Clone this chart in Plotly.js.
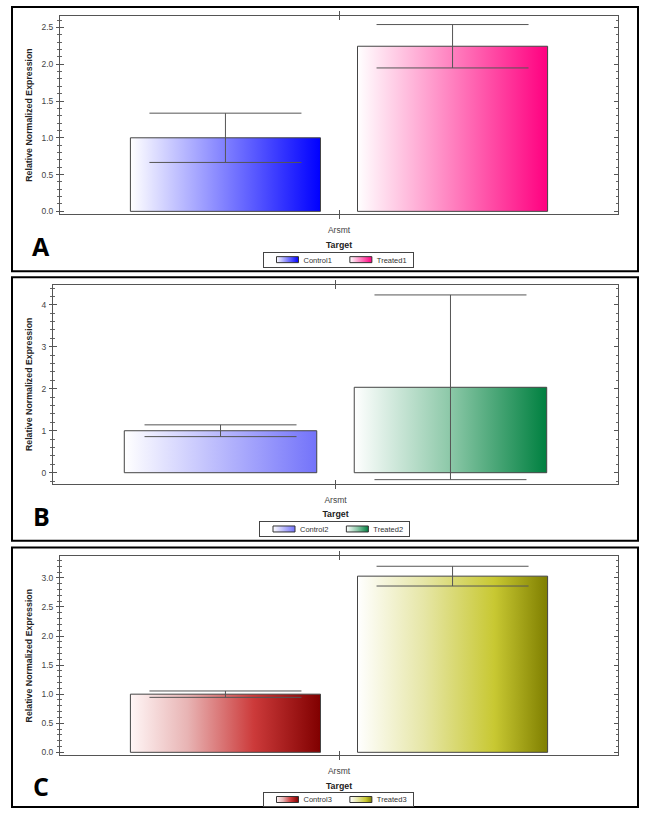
<!DOCTYPE html>
<html>
<head>
<meta charset="utf-8">
<script src="https://cdn.plot.ly/plotly-3.0.1.min.js"></script>
<style>
  html, body { margin: 0; padding: 0; background: #ffffff; width: 646px; height: 823px; overflow: hidden; }
  #chart { width: 646px; height: 823px; overflow: hidden; }
</style>
</head>
<body>
<div id="chart"></div>
<script>
// ---------- data ----------
const target = ['Arsmt'];
const panelLabels = ['A', 'B', 'C'];
const controlNames = ['Control1', 'Control2', 'Control3'];
const treatedNames = ['Treated1', 'Treated2', 'Treated3'];
const controlValues = [1.0, 1.0, 1.0];
const controlErrors = [0.335, 0.14, 0.055];
const treatedValues = [2.245, 2.035, 3.03];
const treatedErrors = [0.295, 2.2, 0.17];
const yTickStep = [0.5, 1, 0.5];
const yMinorStep = [0.1, 0.2, 0.1];
const yRanges = [[-0.04, 2.66], [-0.26, 4.47], [-0.045, 3.37]];
const yTitle = 'Relative Normalized Expression';
const xTitle = 'Target';

// ---------- styles ----------
const W = 646, H = 823;
const px = v => v / W;             // horizontal pixel -> paper
const py = v => 1 - v / H;         // vertical pixel -> paper
const plotBoxes = [                // [left, right, top, bottom] in px
  [60, 618, 16, 218],
  [53, 618, 290, 492],
  [60, 618, 566, 768]
];
const frames = [[12, 638, 7, 276], [12, 638, 282, 550], [12, 638, 557, 821]];
const labelPos = [[41, 250], [41, 525], [41, 800]];
const legendTop = [256, 530, 806];
const legendHeight = [15, 15, 14];
const gradients = [
  [[0, '#ffffff'], [1, '#0000ff']],
  [[0, '#ffffff'], [0.5, '#ff80bf'], [1, '#ff0080']],
  [[0, '#ffffff'], [1, '#7373fa']],
  [[0, '#ffffff'], [0.5, '#8cc8a8'], [1, '#008040']],
  [[0, '#fff6f6'], [0.3, '#e8b4b4'], [0.65, '#cc3a3a'], [1, '#800000']],
  [[0, '#ffffff'], [0.35, '#e6e6a6'], [0.72, '#c8c832'], [1, '#7f7f00']]
];
const gradEnd = gradients.map(g => g[g.length - 1][1]);

const axisFont = { family: 'Liberation Sans, Arial, sans-serif', size: 8.5, color: '#444' };
const titleFont = { family: 'Liberation Sans, Arial, sans-serif', size: 8.8, color: '#222', weight: 'bold' };

const traces = [];
const layout = {
  width: W, height: H,
  margin: { l: 0, r: 0, t: 0, b: 0 },
  paper_bgcolor: '#ffffff',
  plot_bgcolor: '#ffffff',
  font: { family: 'Liberation Sans, Arial, sans-serif', size: 8, color: '#333' },
  barmode: 'group',
  bargap: 0.186,
  bargroupgap: 0.163,
  showlegend: true,
  shapes: [],
  annotations: []
};

for (let i = 0; i < 3; i++) {
  const s = i === 0 ? '' : String(i + 1);
  const xa = 'x' + s, ya = 'y' + s;
  const lg = 'legend' + s;
  const box = plotBoxes[i];
  const mk = (name, val, err, k) => ({
    type: 'bar',
    x: target,
    y: [val],
    name: name,
    xaxis: xa, yaxis: ya,
    legend: lg,
    marker: { color: gradEnd[k], line: { color: '#444', width: 1 } },
    error_y: { type: 'data', array: [err], visible: true, color: '#555', thickness: 1, width: 76 },
    hoverinfo: 'skip'
  });
  traces.push(mk(controlNames[i], controlValues[i], controlErrors[i], 2 * i));
  traces.push(mk(treatedNames[i], treatedValues[i], treatedErrors[i], 2 * i + 1));

  layout['xaxis' + s] = {
    domain: [px(box[0]), px(box[1])],
    anchor: ya,
    type: 'category',
    range: [-0.5, 0.5],
    showline: true, linecolor: '#555', linewidth: 1,
    mirror: 'allticks',
    ticks: 'inside', ticklen: 4, tickcolor: '#555',
    ticklabelstandoff: 8,
    tickfont: axisFont,
    showgrid: false, zeroline: false,
    title: { text: xTitle, font: titleFont, standoff: 7 },
    fixedrange: true
  };
  layout['yaxis' + s] = {
    domain: [py(box[3]), py(box[2])],
    anchor: xa,
    range: yRanges[i],
    dtick: yTickStep[i], tick0: 0,
    showline: true, linecolor: '#555', linewidth: 1,
    mirror: 'allticks',
    ticks: 'inside', ticklen: 4, tickcolor: '#555',
    minor: { dtick: yMinorStep[i], ticks: 'inside', ticklen: 2, tickcolor: '#666' },
    ticklabelstandoff: 4,
    tickformat: i === 1 ? 'd' : '.1f',
    tickfont: axisFont,
    showgrid: false, zeroline: false,
    title: { text: yTitle, font: titleFont, standoff: 7 },
    fixedrange: true
  };
  // outward half of crossing ticks on the left axis
  layout['yaxis' + (i + 4)] = {
    overlaying: ya, matches: ya, anchor: xa, side: 'left',
    range: yRanges[i], dtick: yTickStep[i], tick0: 0,
    showline: false, showgrid: false, zeroline: false,
    ticks: 'outside', ticklen: 3, tickcolor: '#555',
    minor: { dtick: yMinorStep[i], ticks: 'outside', ticklen: 2, tickcolor: '#666' },
    showticklabels: false, fixedrange: true
  };
  layout[lg] = {
    x: px((box[0] + box[1]) / 2 - 1), xanchor: 'center',
    y: py(legendTop[i]), yanchor: 'top',
    orientation: 'h',
    bgcolor: '#ffffff', bordercolor: '#444', borderwidth: 1,
    font: { family: 'Liberation Sans, Arial, sans-serif', size: 7.5, color: '#333' },
    itemwidth: 30,
    itemclick: false, itemdoubleclick: false
  };
  const f = frames[i];
  layout.shapes.push({
    type: 'rect', xref: 'paper', yref: 'paper',
    x0: px(f[0]), x1: px(f[1]), y0: py(f[3]), y1: py(f[2]),
    line: { color: '#000', width: 2 }, fillcolor: 'rgba(0,0,0,0)', layer: 'above'
  });
  layout.annotations.push({
    text: '<b>' + panelLabels[i] + '</b>', xref: 'paper', yref: 'paper',
    x: px(labelPos[i][0]), y: py(labelPos[i][1]), xanchor: 'center', yanchor: 'middle',
    showarrow: false,
    font: { family: 'Open Sans, Liberation Sans, sans-serif', size: 25, color: '#000' }
  });
}
// empty traces so the overlay axes get drawn
for (let i = 0; i < 3; i++) {
  const s = i === 0 ? '' : String(i + 1);
  traces.push({
    type: 'scatter', x: [], y: [], xaxis: 'x' + s, yaxis: 'y' + (i + 4),
    showlegend: false, hoverinfo: 'skip'
  });
}

const allNames = [];
for (let i = 0; i < 3; i++) { allNames.push(controlNames[i], treatedNames[i]); }

const gd = document.getElementById('chart');
Plotly.newPlot(gd, traces, layout, { staticPlot: true, displayModeBar: false }).then(() => {
  const svgNS = 'http://www.w3.org/2000/svg';
  const mainSvg = gd.querySelector('svg.main-svg');
  const defs = document.createElementNS(svgNS, 'defs');
  gradients.forEach((stops, k) => {
    const lgEl = document.createElementNS(svgNS, 'linearGradient');
    lgEl.setAttribute('id', 'barGrad' + k);
    lgEl.setAttribute('x1', '0'); lgEl.setAttribute('y1', '0');
    lgEl.setAttribute('x2', '1'); lgEl.setAttribute('y2', '0');
    stops.forEach(st => {
      const stop = document.createElementNS(svgNS, 'stop');
      stop.setAttribute('offset', st[0]);
      stop.setAttribute('stop-color', st[1]);
      lgEl.appendChild(stop);
    });
    defs.appendChild(lgEl);
  });
  mainSvg.insertBefore(defs, mainSvg.firstChild);

  gd.querySelectorAll('g.trace.bars').forEach(g => {
    const d = g.__data__;
    const idx = d && d[0] && d[0].trace ? d[0].trace.index : null;
    if (idx === null || idx > 5) return;
    g.querySelectorAll('g.point path').forEach(p => {
      p.style.fill = 'url(#barGrad' + idx + ')';
    });
  });

  // legends: gradient symbols, flatter rectangles, compact box
  ['g.legend', 'g.legend2', 'g.legend3'].forEach((sel, li) => {
    gd.querySelectorAll(sel).forEach(L => {
      const bg = L.querySelector('rect.bg');
      if (bg) bg.setAttribute('height', legendHeight[li]);
      L.querySelectorAll('g.traces').forEach(t => {
        const content = t.textContent || '';
        const idx = allNames.findIndex(n => content.indexOf(n) >= 0);
        const tr = t.getAttribute('transform') || '';
        const m = /translate\(\s*([-\d.e]+)[\s,]+([-\d.e]+)\s*\)/.exec(tr);
        if (m) t.setAttribute('transform', 'translate(' + m[1] + ',' + (legendHeight[li] / 2 + 0.5) + ')');
        t.querySelectorAll('g.legendpoints path').forEach(p => {
          p.setAttribute('d', 'M15,3H-7V-3H15Z');
          if (idx >= 0) p.style.fill = 'url(#barGrad' + idx + ')';
          p.style.stroke = '#333';
          p.style.strokeWidth = '1px';
        });
      });
    });
  });
});
</script>
</body>
</html>
